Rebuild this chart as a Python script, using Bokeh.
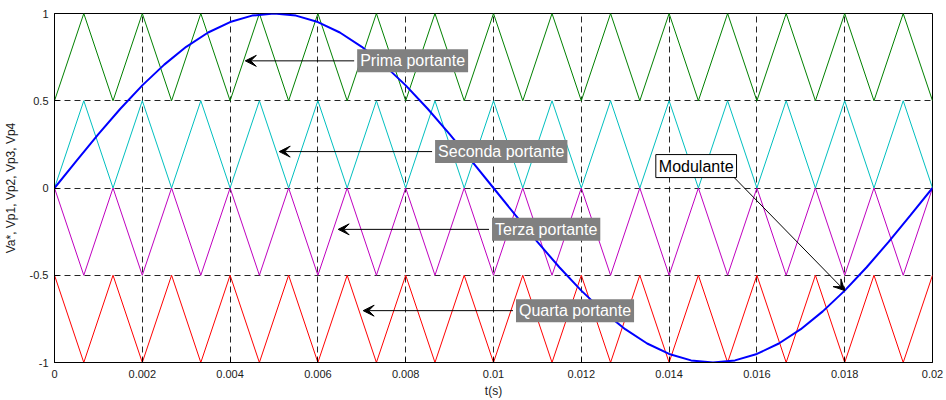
from bokeh.plotting import figure
from bokeh.models import Range1d, FixedTicker, Arrow, VeeHead, Label
from bokeh.embed import file_html
from bokeh.resources import INLINE

# ---- data -------------------------------------------------------------
# vertices of the triangular carriers (750 Hz, 15 periods in 20 ms)
carrier_t = [0.0, 0.000667, 0.001333, 0.002, 0.002667, 0.003333, 0.004, 0.004667,
             0.005333, 0.006, 0.006667, 0.007333, 0.008, 0.008667, 0.009333, 0.01,
             0.010667, 0.011333, 0.012, 0.012667, 0.013333, 0.014, 0.014667, 0.015333,
             0.016, 0.016667, 0.017333, 0.018, 0.018667, 0.019333, 0.02]

vp1 = [0.5, 1, 0.5, 1, 0.5, 1, 0.5, 1, 0.5, 1, 0.5, 1, 0.5, 1, 0.5, 1,
       0.5, 1, 0.5, 1, 0.5, 1, 0.5, 1, 0.5, 1, 0.5, 1, 0.5, 1, 0.5]
vp2 = [0, 0.5, 0, 0.5, 0, 0.5, 0, 0.5, 0, 0.5, 0, 0.5, 0, 0.5, 0, 0.5,
       0, 0.5, 0, 0.5, 0, 0.5, 0, 0.5, 0, 0.5, 0, 0.5, 0, 0.5, 0]
vp3 = [0, -0.5, 0, -0.5, 0, -0.5, 0, -0.5, 0, -0.5, 0, -0.5, 0, -0.5, 0, -0.5,
       0, -0.5, 0, -0.5, 0, -0.5, 0, -0.5, 0, -0.5, 0, -0.5, 0, -0.5, 0]
vp4 = [-0.5, -1, -0.5, -1, -0.5, -1, -0.5, -1, -0.5, -1, -0.5, -1, -0.5, -1, -0.5, -1,
       -0.5, -1, -0.5, -1, -0.5, -1, -0.5, -1, -0.5, -1, -0.5, -1, -0.5, -1, -0.5]

# 50 Hz modulating signal, sampled every 0.5 ms
mod_t = [0.0, 0.0005, 0.001, 0.0015, 0.002, 0.0025, 0.003, 0.0035, 0.004, 0.0045,
         0.005, 0.0055, 0.006, 0.0065, 0.007, 0.0075, 0.008, 0.0085, 0.009, 0.0095,
         0.01, 0.0105, 0.011, 0.0115, 0.012, 0.0125, 0.013, 0.0135, 0.014, 0.0145,
         0.015, 0.0155, 0.016, 0.0165, 0.017, 0.0175, 0.018, 0.0185, 0.019, 0.0195, 0.02]
va = [0.0, 0.156, 0.309, 0.454, 0.588, 0.707, 0.809, 0.891, 0.951, 0.988,
      1.0, 0.988, 0.951, 0.891, 0.809, 0.707, 0.588, 0.454, 0.309, 0.156,
      0.0, -0.156, -0.309, -0.454, -0.588, -0.707, -0.809, -0.891, -0.951, -0.988,
      -1.0, -0.988, -0.951, -0.891, -0.809, -0.707, -0.588, -0.454, -0.309, -0.156, 0.0]

x_ticks = [0.0, 0.002, 0.004, 0.006, 0.008, 0.01, 0.012, 0.014, 0.016, 0.018, 0.02]
x_tick_labels = ["0", "0.002", "0.004", "0.006", "0.008", "0.01", "0.012",
                 "0.014", "0.016", "0.018", "0.02"]
y_ticks = [-1.0, -0.5, 0.0, 0.5, 1.0]
y_tick_labels = ["-1", "-0.5", "0", "0.5", "1"]

FONT = "Liberation Sans"

# ---- figure -----------------------------------------------------------
p = figure(width=946, height=400, output_backend="svg", toolbar_location=None,
           x_range=Range1d(0, 0.02), y_range=Range1d(-1, 1),
           min_border_left=53, min_border_right=14, min_border_top=13,
           min_border_bottom=37)
p.background_fill_color = "white"
p.border_fill_color = "white"
p.outline_line_color = "black"
p.outline_line_width = 1

for ax, ticks, labels in ((p.xaxis[0], x_ticks, x_tick_labels),
                          (p.yaxis[0], y_ticks, y_tick_labels)):
    ax.ticker = FixedTicker(ticks=ticks)
    ax.major_label_overrides = dict(zip(ticks, labels))
    ax.major_tick_in = 5
    ax.major_tick_out = 0
    ax.minor_tick_line_color = None
    ax.axis_line_color = "black"
    ax.major_tick_line_color = "black"
    ax.major_label_text_font = FONT
    ax.major_label_text_font_size = "11px"
    ax.major_label_text_color = "#1a1a1a"
    ax.axis_label_text_font = FONT
    ax.axis_label_text_font_size = "12px"
    ax.axis_label_text_font_style = "normal"
    ax.axis_label_text_color = "#1a1a1a"

p.xaxis.axis_label = "t(s)"
p.xaxis.major_label_standoff = 7
p.xaxis.axis_label_standoff = 3
p.yaxis.axis_label = "Va*, Vp1, Vp2, Vp3, Vp4"
p.yaxis.major_label_standoff = 6
p.yaxis.axis_label_standoff = 9

p.xgrid.ticker = FixedTicker(ticks=x_ticks)
p.ygrid.ticker = FixedTicker(ticks=y_ticks)
for g in (p.xgrid[0], p.ygrid[0]):
    g.grid_line_color = "black"
    g.grid_line_alpha = 0.85
    g.grid_line_dash = "6 4"
    g.grid_line_width = 1

# ---- carriers and modulating signal -----------------------------------
p.line(carrier_t, vp1, line_color="#008000", line_width=1)
p.line(carrier_t, vp2, line_color="#00BFBF", line_width=1)
p.line(carrier_t, vp3, line_color="#BF00BF", line_width=1)
p.line(carrier_t, vp4, line_color="#FF0000", line_width=1)
p.line(mod_t, va, line_color="#0000FF", line_width=2)

# ---- annotations: (text, box left, y, arrow head x, arrow head y) -----
notes = [
    ("Prima portante", 0.006826, 0.7286, 0.004346, 0.7286),
    ("Seconda portante", 0.008601, 0.2086, 0.005119, 0.2086),
    ("Terza portante", 0.009898, -0.2371, 0.006462, -0.2371),
    ("Quarta portante", 0.010444, -0.7029, 0.007031, -0.7029),
]
for text, bx, by, hx, hy in notes:
    p.add_layout(Arrow(end=VeeHead(size=11, fill_color="black", line_color="black"),
                       x_start=bx, y_start=by, x_end=hx, y_end=hy,
                       line_color="black", line_width=1))
    p.add_layout(Label(x=bx, y=by, x_offset=3, text=text, text_align="left",
                       text_baseline="middle", text_font=FONT,
                       text_font_size="16px", text_color="white",
                       background_fill_color="#808080", padding=3))

# modulating-signal callout
p.add_layout(Arrow(end=VeeHead(size=11, fill_color="black", line_color="black"),
                   x_start=0.015427, y_start=0.0743, x_end=0.018, y_end=-0.588,
                   line_color="black", line_width=1))
p.add_layout(Label(x=0.013629, y=0.1257, x_offset=3, text="Modulante",
                   text_align="left", text_baseline="middle", text_font=FONT,
                   text_font_size="16px", text_color="black",
                   background_fill_color="white", border_line_color="black",
                   border_line_width=1, padding=3))

open("out.html", "w").write(file_html(p, INLINE))
